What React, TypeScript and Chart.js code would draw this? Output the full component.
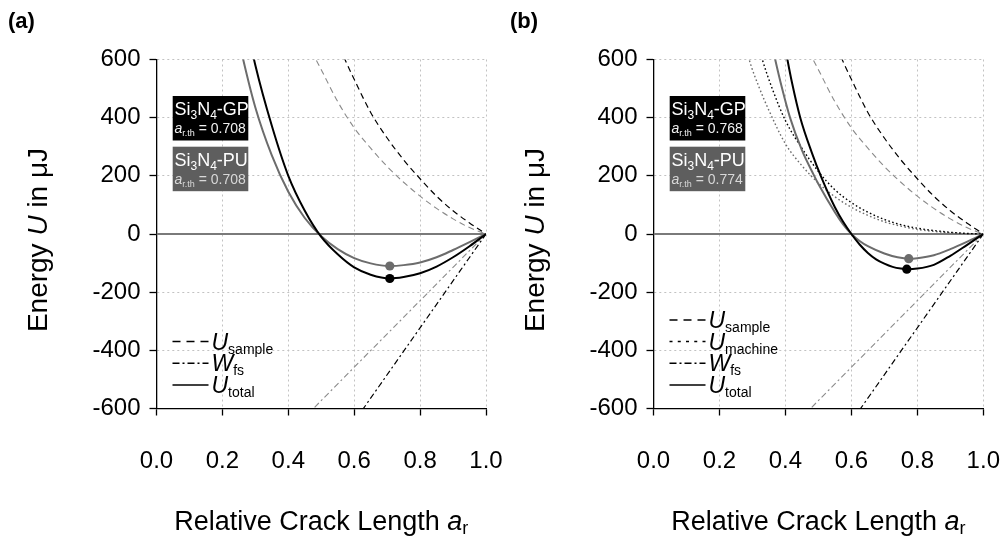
import React, { useEffect, useRef } from "react";
import { Chart, registerables } from "chart.js";

Chart.register(...registerables);

const FONT = '"Liberation Sans", Arial, sans-serif';

type Pt = [number, number];

// ---- axis ticks ----
const xTickValues = [0, 0.2, 0.4, 0.6, 0.8, 1.0];
const yTickValues = [-600, -400, -200, 0, 200, 400, 600];

// ---- shared reference line ----
const zeroLine: Pt[] = [[0, 0], [1, 0]];

// ---- sample energy (same specimens in both panels) ----
const sampleGP: Pt[] = [
  [0.5, 800], [0.55, 660], [0.572, 600], [0.6, 532], [0.65, 418], [0.7, 330],
  [0.75, 255], [0.8, 190], [0.85, 130], [0.9, 80], [0.95, 38], [1.0, 0],
];
const samplePU: Pt[] = [
  [0.42, 752], [0.45, 680], [0.484, 600], [0.5, 565], [0.55, 455], [0.6, 365],
  [0.65, 295], [0.7, 232], [0.75, 178], [0.8, 130], [0.85, 88], [0.9, 52],
  [0.95, 22], [1.0, 0],
];

// ---- fracture surface work ----
const wfsGP: Pt[] = [[0.6, -645], [1.0, 0]];
const wfsPU: Pt[] = [[0.45, -630], [1.0, 0]];

// ---- panel (a) total energy ----
const totalGP_a: Pt[] = [
  [0.27, 740], [0.3, 580], [0.35, 372], [0.4, 200], [0.45, 80], [0.5, -10],
  [0.55, -70], [0.6, -115], [0.65, -140], [0.708, -153], [0.75, -148],
  [0.8, -135], [0.85, -112], [0.9, -80], [0.95, -42], [1.0, 0],
];
const totalPU_a: Pt[] = [
  [0.24, 720], [0.26, 615], [0.3, 435], [0.35, 270], [0.4, 145], [0.45, 55],
  [0.5, -8], [0.55, -52], [0.6, -83], [0.65, -101], [0.708, -110], [0.75, -107],
  [0.8, -98], [0.85, -80], [0.9, -55], [0.95, -28], [1.0, 0],
];
const thresholdGP_a: Pt = [0.708, -153];
const thresholdPU_a: Pt = [0.708, -110];

// ---- panel (b) machine energy ----
const machineGP: Pt[] = [
  [0.3, 730], [0.33, 600], [0.36, 500], [0.4, 390], [0.45, 295], [0.5, 215],
  [0.55, 152], [0.6, 108], [0.65, 75], [0.7, 50], [0.75, 32], [0.8, 20],
  [0.85, 12], [0.9, 6], [0.95, 2], [1.0, 0],
];
const machinePU: Pt[] = [
  [0.27, 690], [0.29, 600], [0.32, 505], [0.35, 425], [0.4, 310], [0.45, 235],
  [0.5, 175], [0.55, 128], [0.6, 92], [0.65, 64], [0.7, 42], [0.75, 27],
  [0.8, 16], [0.85, 9], [0.9, 4], [0.95, 1], [1.0, 0],
];

// ---- panel (b) total energy ----
const totalGP_b: Pt[] = [
  [0.39, 700], [0.406, 600], [0.42, 520], [0.445, 400], [0.48, 280], [0.51, 192],
  [0.55, 92], [0.575, 42], [0.6, 0], [0.625, -36], [0.65, -65], [0.675, -87],
  [0.7, -102], [0.725, -113], [0.75, -119], [0.768, -121], [0.8, -119],
  [0.85, -106], [0.9, -75], [0.95, -38], [1.0, 0],
];
const totalPU_b: Pt[] = [
  [0.35, 700], [0.369, 600], [0.39, 500], [0.414, 400], [0.45, 288], [0.485, 205],
  [0.5, 172], [0.55, 75], [0.575, 33], [0.6, 0], [0.625, -24], [0.65, -42],
  [0.7, -67], [0.74, -80], [0.774, -85], [0.8, -83], [0.85, -73], [0.9, -52],
  [0.95, -27], [1.0, 0],
];
const thresholdGP_b: Pt = [0.768, -121];
const thresholdPU_b: Pt = [0.774, -85];

// ---------------------------------------------------------------

const BLACK = "#000000";
const GRAY = "#6c6c6c";
const GRAY_LIGHT = "#8a8a8a";

const DASH = [6, 4];
const DOT = [1.6, 2.4];
const DASHDOT = [6, 3, 2, 3];

type Series = { data: Pt[]; color: string; width: number; dash: number[]; order: number };
type LegendEntry = { main: string; sub: string; dash: number[] };
type PanelDef = {
  label: string;
  labelX: number;
  left: number;
  width: number;
  padRight: number;
  series: Series[];
  dots: { pt: Pt; color: string }[];
  legend: LegendEntry[];
};

type Part = { t: string; size: number; italic?: boolean; bold?: boolean; dy?: number };

function fontOf(p: Part) {
  return `${p.italic ? "italic " : ""}${p.bold ? "bold " : ""}${p.size}px ${FONT}`;
}

function drawParts(
  ctx: CanvasRenderingContext2D,
  parts: Part[],
  x: number,
  y: number,
  align: "left" | "center" | "right",
  color: string
) {
  let w = 0;
  for (const p of parts) {
    ctx.font = fontOf(p);
    w += ctx.measureText(p.t).width;
  }
  let cx = align === "left" ? x : align === "center" ? x - w / 2 : x - w;
  ctx.fillStyle = color;
  ctx.textAlign = "left";
  ctx.textBaseline = "alphabetic";
  for (const p of parts) {
    ctx.font = fontOf(p);
    ctx.fillText(p.t, cx, y + (p.dy || 0));
    cx += ctx.measureText(p.t).width;
  }
}

function overlayPlugin(panel: PanelDef) {
  return {
    id: "overlay",
    afterDraw(chart: any) {
      const ctx: CanvasRenderingContext2D = chart.ctx;
      const ca = chart.chartArea;
      ctx.save();

      // panel label
      drawParts(ctx, [{ t: panel.label, size: 22, bold: true }], panel.labelX, 28, "left", BLACK);

      // y title
      ctx.save();
      ctx.translate(37, (ca.top + ca.bottom) / 2 + 6);
      ctx.rotate(-Math.PI / 2);
      drawParts(
        ctx,
        [
          { t: "Energy ", size: 28 },
          { t: "U", size: 28, italic: true },
          { t: " in μJ", size: 28 },
        ],
        0,
        10,
        "center",
        BLACK
      );
      ctx.restore();

      // x title
      drawParts(
        ctx,
        [
          { t: "Relative Crack Length ", size: 27 },
          { t: "a", size: 27, italic: true },
          { t: "r", size: 18, dy: 4 },
        ],
        (ca.left + ca.right) / 2,
        530,
        "center",
        BLACK
      );

      // threshold boxes
      const boxes = [
        { top: 36.5, fill: "#000000", name: "GP", pt: panel.dots[0].pt, c2: "#f0f0f0" },
        { top: 87.2, fill: "#5e5e5e", name: "PU", pt: panel.dots[1].pt, c2: "#d8d8d8" },
      ];
      for (const b of boxes) {
        const bx = ca.left + 16.2;
        const by = ca.top + b.top;
        ctx.fillStyle = b.fill;
        ctx.fillRect(bx, by, 75.6, 44.5);
        drawParts(
          ctx,
          [
            { t: "Si", size: 18 },
            { t: "3", size: 12, dy: 4 },
            { t: "N", size: 18 },
            { t: "4", size: 12, dy: 4 },
            { t: "-" + b.name, size: 18 },
          ],
          bx + 1.8,
          by + 19,
          "left",
          "#ffffff"
        );
        drawParts(
          ctx,
          [
            { t: "a", size: 14, italic: true },
            { t: "r.th", size: 9, dy: 2.5 },
            { t: " = " + b.pt[0].toFixed(3), size: 14 },
          ],
          bx + 1.8,
          by + 37.3,
          "left",
          b.c2
        );
      }

      // legend
      const n = panel.legend.length;
      panel.legend.forEach((e, i) => {
        const y = ca.bottom - 23.5 - (n - 1 - i) * 21.7;
        ctx.save();
        ctx.strokeStyle = BLACK;
        ctx.lineWidth = 1.5;
        ctx.setLineDash(e.dash);
        ctx.beginPath();
        ctx.moveTo(ca.left + 16, y);
        ctx.lineTo(ca.left + 52, y);
        ctx.stroke();
        ctx.restore();
        drawParts(
          ctx,
          [
            { t: e.main, size: 23, italic: true },
            { t: e.sub, size: 14, dy: 4 },
          ],
          ca.left + 55,
          y + 8,
          "left",
          BLACK
        );
      });

      ctx.restore();
    },
  };
}

function buildConfig(panel: PanelDef): any {
  const datasets: any[] = [];
  panel.dots.forEach((d) => {
    datasets.push({
      data: [{ x: d.pt[0], y: d.pt[1] }],
      showLine: false,
      pointRadius: 4.6,
      pointBackgroundColor: d.color,
      pointBorderWidth: 0,
      order: 0,
      clip: false,
    });
  });
  panel.series.forEach((s) => {
    datasets.push({
      data: s.data.map(([x, y]) => ({ x, y })),
      borderColor: s.color,
      borderWidth: s.width,
      borderDash: s.dash,
      pointRadius: 0,
      fill: false,
      cubicInterpolationMode: "monotone",
      order: s.order,
      clip: 0,
    });
  });

  return {
    type: "line",
    data: { datasets },
    options: {
      animation: false,
      responsive: false,
      devicePixelRatio: 1,
      events: [],
      layout: {
        autoPadding: false,
        padding: { left: 66.5, right: panel.padRight, top: 59.5, bottom: 49.5 },
      },
      plugins: { legend: { display: false }, tooltip: { enabled: false } },
      scales: {
        x: {
          type: "linear",
          min: 0,
          max: 1,
          afterBuildTicks: (s: any) => {
            s.ticks = xTickValues.map((v) => ({ value: v }));
          },
          afterFit: (s: any) => {
            s.height = 80;
            s.paddingLeft = 0;
            s.paddingRight = 0;
            s.paddingTop = 0;
            s.paddingBottom = 0;
          },
          ticks: {
            font: { family: FONT, size: 24 },
            color: BLACK,
            padding: 31,
            maxRotation: 0,
            autoSkip: false,
            callback: (v: any) => Number(v).toFixed(1),
          },
          grid: {
            color: "#c2c2c2",
            lineWidth: 1,
            tickColor: BLACK,
            tickLength: 7,
            tickWidth: 1.3,
          },
          border: { display: true, color: BLACK, width: 1.3, dash: [2, 3] },
        },
        y: {
          type: "linear",
          min: -600,
          max: 600,
          afterBuildTicks: (s: any) => {
            s.ticks = yTickValues.map((v) => ({ value: v }));
          },
          afterFit: (s: any) => {
            s.width = 90;
            s.paddingLeft = 0;
            s.paddingRight = 0;
            s.paddingTop = 0;
            s.paddingBottom = 0;
          },
          ticks: {
            font: { family: FONT, size: 24 },
            color: BLACK,
            padding: 9,
            autoSkip: false,
            callback: (v: any) => String(v),
          },
          grid: {
            color: "#c2c2c2",
            lineWidth: 1,
            tickColor: BLACK,
            tickLength: 7,
            tickWidth: 1.3,
          },
          border: { display: true, color: BLACK, width: 1.3, dash: [2, 3] },
        },
      },
    },
    plugins: [overlayPlugin(panel)],
  };
}

const panelA: PanelDef = {
  label: "(a)",
  labelX: 8,
  left: 0,
  width: 520,
  padRight: 34,
  series: [
    { data: zeroLine, color: "#7a7a7a", width: 2, dash: [], order: 9 },
    { data: sampleGP, color: BLACK, width: 1.2, dash: DASH, order: 3 },
    { data: samplePU, color: GRAY_LIGHT, width: 1.1, dash: DASH, order: 4 },
    { data: wfsGP, color: BLACK, width: 1.2, dash: DASHDOT, order: 3 },
    { data: wfsPU, color: GRAY_LIGHT, width: 1.1, dash: DASHDOT, order: 4 },
    { data: totalGP_a, color: BLACK, width: 2, dash: [], order: 1 },
    { data: totalPU_a, color: GRAY, width: 2, dash: [], order: 2 },
  ],
  dots: [
    { pt: thresholdGP_a, color: BLACK },
    { pt: thresholdPU_a, color: GRAY },
  ],
  legend: [
    { main: "U", sub: "sample", dash: [8, 6] },
    { main: "W", sub: "fs", dash: [7, 3, 2, 3] },
    { main: "U", sub: "total", dash: [] },
  ],
};

const panelB: PanelDef = {
  label: "(b)",
  labelX: 13,
  left: 497,
  width: 508,
  padRight: 21.7,
  series: [
    { data: zeroLine, color: "#7a7a7a", width: 2, dash: [], order: 9 },
    { data: sampleGP, color: BLACK, width: 1.2, dash: DASH, order: 3 },
    { data: samplePU, color: GRAY_LIGHT, width: 1.1, dash: DASH, order: 4 },
    { data: machineGP, color: BLACK, width: 1.4, dash: DOT, order: 3 },
    { data: machinePU, color: GRAY, width: 1.4, dash: DOT, order: 4 },
    { data: wfsGP, color: BLACK, width: 1.2, dash: DASHDOT, order: 3 },
    { data: wfsPU, color: GRAY_LIGHT, width: 1.1, dash: DASHDOT, order: 4 },
    { data: totalGP_b, color: BLACK, width: 2, dash: [], order: 1 },
    { data: totalPU_b, color: GRAY, width: 2, dash: [], order: 2 },
  ],
  dots: [
    { pt: thresholdGP_b, color: BLACK },
    { pt: thresholdPU_b, color: GRAY },
  ],
  legend: [
    { main: "U", sub: "sample", dash: [8, 6] },
    { main: "U", sub: "machine", dash: [3, 5.25] },
    { main: "W", sub: "fs", dash: [7, 3, 2, 3] },
    { main: "U", sub: "total", dash: [] },
  ],
};

function Panel({ panel }: { panel: PanelDef }) {
  const ref = useRef<HTMLCanvasElement>(null);
  useEffect(() => {
    const chart = new Chart(ref.current as HTMLCanvasElement, buildConfig(panel));
    return () => chart.destroy();
  }, [panel]);
  return (
    <canvas
      ref={ref}
      width={panel.width}
      height={538}
      style={{ position: "absolute", left: panel.left, top: 0, width: panel.width, height: 538 }}
    />
  );
}

export default function App() {
  return (
    <div
      style={{
        position: "fixed",
        left: 0,
        top: 0,
        width: 1005,
        height: 538,
        background: "#ffffff",
        overflow: "hidden",
      }}
    >
      <Panel panel={panelA} />
      <Panel panel={panelB} />
    </div>
  );
}
